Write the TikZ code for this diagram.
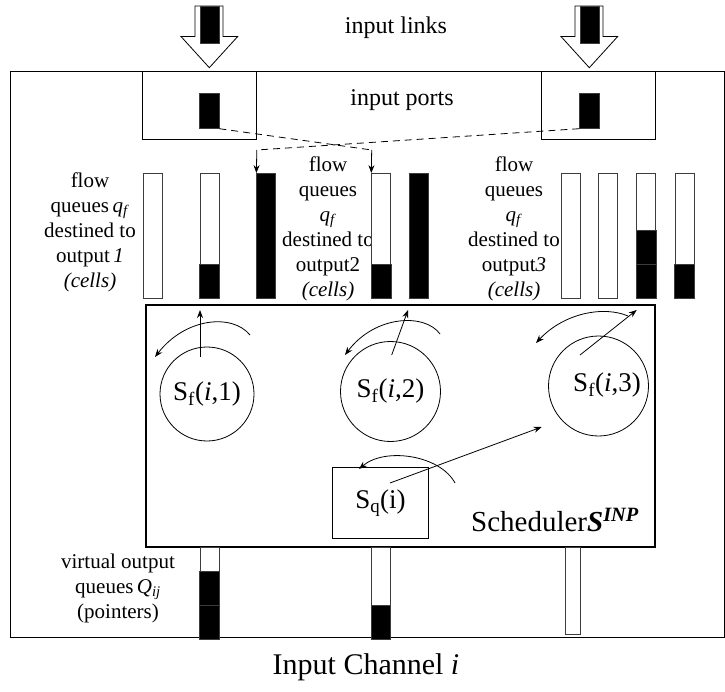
\documentclass[tikz,border=0pt]{standalone}
\usepackage{fontspec}
\setmainfont{Liberation Serif}
\usepackage{tikz}
\usetikzlibrary{arrows.meta, positioning, calc}
\definecolor{barline}{RGB}{60,60,60}
\tikzset{
  qbar/.style={rectangle, draw=barline, fill=white, minimum width=19pt,
    minimum height=124.5pt, inner sep=0pt, line width=0.8pt},
  voqbar/.style={rectangle, draw=barline, fill=white, minimum width=19pt,
    minimum height=92pt, inner sep=0pt, line width=0.8pt},
  cell/.style={draw=barline, fill=black, line width=0.8pt},
  portbox/.style={rectangle, draw=black, minimum width=114pt,
    minimum height=68pt, inner sep=0pt, line width=0.7pt},
  pktbar/.style={rectangle, draw=barline, fill=black, minimum width=19.5pt,
    minimum height=35pt, inner sep=0pt, line width=0.8pt},
  ring/.style={circle, draw=black, inner sep=0pt, line width=0.8pt,
    font=\fontsize{27}{30}\selectfont},
  sqbox/.style={rectangle, draw=black, minimum width=95.6pt,
    minimum height=70.6pt, inner sep=0pt, line width=0.8pt,
    font=\fontsize{27}{30}\selectfont},
  schedbox/.style={rectangle, draw=black, minimum width=509pt,
    minimum height=242pt, inner sep=0pt, line width=2.6pt},
  arrow/.style={-{Stealth[length=8pt,width=6pt]}, line width=0.8pt, color=black},
  dashline/.style={dash pattern=on 7pt off 5pt, line width=0.8pt},
  lbl/.style={font=\fontsize{21}{25}\selectfont, align=center, inner sep=0pt},
  biglbl/.style={font=\fontsize{24}{28}\selectfont, inner sep=0pt}
}

\begin{document}
\begin{tikzpicture}[x=1pt, y=-1pt]
  \useasboundingbox (0,0) rectangle (725,692);
  % Channel frame
  \draw[line width=0.8pt] (10,71) rectangle (724,637);
  % Input links
  \draw[line width=0.8pt, fill=white] (195,6) -- (223,6) -- (223,36.5) -- (237.7,36.5)
    -- (209.3,67.7) -- (181,36.5) -- (195,36.5) -- cycle;
  \draw[cell] (200,6) rectangle (219,43.3);
  \draw[line width=0.8pt, fill=white] (575,6) -- (603,6) -- (603,36.5) -- (617.7,36.5)
    -- (589.3,67.7) -- (561,36.5) -- (575,36.5) -- cycle;
  \draw[cell] (580,6) rectangle (599,43.3);
  \node[biglbl] (links) at (396,28) {input links};
  % Input ports
  \node[portbox] (portL) at (199.8,105.2) {};
  \node[portbox] (portR) at (598.8,105.2) {};
  \node[pktbar] (pktL) at (209.2,110.8) {};
  \node[pktbar] (pktR) at (589.5,110.8) {};
  \node[biglbl] (ports) at (402,100) {input ports};
  % Flow queue labels
  \node[lbl] (lblA) at (90,232) {flow\\queues\,\textit{q}\textsubscript{\textit{f}}\\destined to\\output\,\textit{1}\\\textit{(cells)}};
  \node[lbl] (lblB) at (328,229) {flow\\queues\\\textit{q}\textsubscript{\textit{f}}\\destined to\\output2\\\textit{(cells)}};
  \node[lbl] (lblC) at (514,229) {flow\\queues\\\textit{q}\textsubscript{\textit{f}}\\destined to\\output\textit{3}\\\textit{(cells)}};
  % Flow queues
  \node[qbar] (qa1) at (153,235.75) {};
  \node[qbar] (qa2) at (209.5,235.75) {};
  \node[qbar, fill=black] (qa3) at (266.3,235.75) {};
  \node[qbar] (qb1) at (381.2,235.75) {};
  \node[qbar, fill=black] (qb2) at (419,235.75) {};
  \node[qbar] (qc1) at (570.5,235.75) {};
  \node[qbar] (qc2) at (608.3,235.75) {};
  \node[qbar] (qc3) at (646.3,235.75) {};
  \node[qbar] (qc4) at (684.7,235.75) {};
  \draw[cell] ($(qa2.south west)+(0,-34)$) rectangle (qa2.south east);
  \draw[cell] ($(qb1.south west)+(0,-34)$) rectangle (qb1.south east);
  \draw[cell] ($(qc3.south west)+(0,-34)$) rectangle (qc3.south east);
  \draw[cell] ($(qc3.south west)+(0,-68)$) rectangle ($(qc3.south east)+(0,-34)$);
  \draw[cell] ($(qc4.south west)+(0,-34)$) rectangle (qc4.south east);
  % Ports to queues
  \coordinate (kinkL) at (371.7,150);
  \coordinate (kinkR) at (256.8,150);
  \draw[dashline] (pktL.south east) -- (kinkL);
  \draw[arrow] (kinkL) -- (qb1.north west);
  \draw[dashline] (pktR.south west) -- (kinkR);
  \draw[arrow] (kinkR) -- (qa3.north west);
  % Scheduler
  \node[schedbox] (sched) at (400.5,426) {};
  \node[ring, minimum size=94pt] (ring1) at (207,394) {S\textsubscript{f}(\textit{i},1)};
  \node[ring, minimum size=100pt] (ring2) at (390.5,391.5) {S\textsubscript{f}(\textit{i},2)};
  \node[ring, minimum size=100pt] (ring3) at (598.5,386) {};
  \node[font=\fontsize{27}{30}\selectfont, inner sep=0pt] (ring3txt) at (607,385) {S\textsubscript{f}(\textit{i},3)};
  \node[sqbox] (sq) at (380.5,503) {S\textsubscript{q}(i)};
  \node[font=\fontsize{29}{32}\selectfont, inner sep=0pt] (schedlbl) at (555,520)
    {Scheduler\textbf{\textit{S}}\textsuperscript{\textbf{\textit{INP}}}};
  % Service arrows
  \coordinate (out1) at (200,357);
  \coordinate (top1) at (200,310);
  \coordinate (out2) at (391.7,355);
  \coordinate (top2) at (408,310);
  \coordinate (out3) at (580,355);
  \coordinate (top3) at (636.7,310);
  \coordinate (outq) at (390,483);
  \coordinate (toring3) at (541.7,427);
  \draw[arrow] (out1) -- (top1);
  \draw[arrow] (out2) -- (top2);
  \draw[arrow] (out3) -- (top3);
  \draw[arrow] (outq) -- (toring3);
  % Round-robin turns
  \draw[arrow] (250,335) .. controls (232,313) and (185,318) .. (155,357);
  \draw[arrow] (440,334) .. controls (425,313) and (375,315) .. (345,355);
  \draw[arrow] (628,316) .. controls (605,306) and (565,312) .. (536,343);
  \draw[arrow] (455,483) .. controls (440,455) and (385,447) .. (359,469);
  % Virtual output queues
  \node[voqbar] (v1) at (209.5,593) {};
  \node[voqbar] (v2) at (380.9,593) {};
  \node[voqbar, minimum width=15.7pt, minimum height=87pt] (v3) at (572.9,590.5) {};
  \draw[cell] ($(v1.south west)+(0,-34)$) rectangle (v1.south east);
  \draw[cell] ($(v1.south west)+(0,-68)$) rectangle ($(v1.south east)+(0,-34)$);
  \draw[cell] ($(v2.south west)+(0,-34)$) rectangle (v2.south east);
  \node[lbl] (lblV) at (118,588) {virtual output\\queues\,\textit{Q}\textsubscript{\textit{ij}}\\(pointers)};
  % Caption
  \node[font=\fontsize{30}{34}\selectfont, inner sep=0pt] (caption) at (366,667) {Input Channel \textit{i}};
\end{tikzpicture}
\end{document}
